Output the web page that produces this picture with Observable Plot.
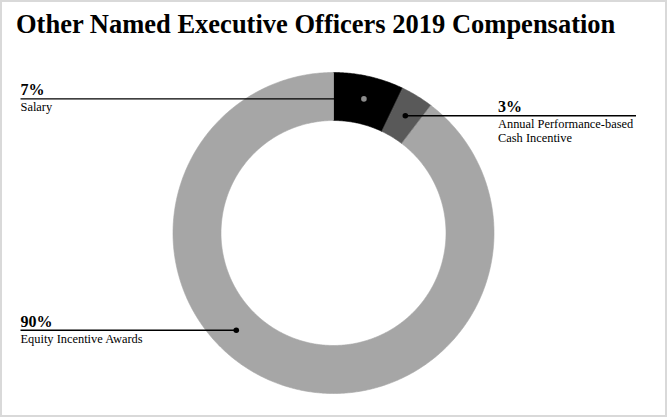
<!DOCTYPE html>
<html>
<head>
<meta charset="utf-8">
<script src="https://cdn.jsdelivr.net/npm/d3@7"></script>
<script src="https://cdn.jsdelivr.net/npm/@observablehq/plot@0.6"></script>
<style>
  html, body { margin: 0; padding: 0; background: #fff; }
  #wrap { position: relative; width: 667px; height: 417px; overflow: hidden; background: #fff; }
  #title { position: absolute; left: 16px; top: 11px; margin: 0; white-space: nowrap;
    font-family: "Liberation Serif", "Times New Roman", serif; font-weight: bold;
    font-size: 26.5px; line-height: 26.5px; color: #000; }
  #chart { position: absolute; left: 0; top: 0; }
  #border { position: absolute; left: 0; top: 0; width: 667px; height: 417px; box-sizing: border-box;
    border: 2px solid #d9d9d9; pointer-events: none; }
</style>
</head>
<body>
<div id="wrap">
  <div id="chart"></div>
  <div id="title">Other Named Executive Officers 2019 Compensation</div>
  <div id="border"></div>
</div>
<script>
// ---- data ----
const categories = ["Salary", "Annual Performance-based Cash Incentive", "Equity Incentive Awards"];
const labelText = ["Salary", "Annual Performance-based\nCash Incentive", "Equity Incentive Awards"];
const values = [7.1, 3.3, 89.6];
const sliceColors = ["#000000", "#595959", "#a6a6a6"];
const dotColors = ["#8c8c8c", "#000000", "#000000"];

// ---- layout ----
const W = 667, H = 417;
const cx = 333, cy = 232.5;          // donut centre (page px)
const R = 160.5, r0 = 112.5;         // outer / inner radius
const rLabel = (R + r0) / 2 + 1;     // where leader dots sit
const placement = [{side: "left"}, {side: "right"}, {side: "left", angle: 225}];

const total = d3.sum(values);
let acc = 0;
const slices = categories.map((name, i) => {
  const a0 = acc / total * 360;
  acc += values[i];
  const a1 = acc / total * 360;
  return {name, i, a0, a1, value: values[i], pct: Math.round(values[i] / total * 100)};
});

const rad = a => a * Math.PI / 180;
// polygon points for each ring slice
const pts = [];
for (const s of slices) {
  const n = Math.max(4, Math.ceil((s.a1 - s.a0) / 0.5));
  for (let k = 0; k <= n; k++) {
    const a = rad(s.a0 + (s.a1 - s.a0) * k / n);
    pts.push({name: s.name, color: sliceColors[s.i], x: R * Math.sin(a), y: R * Math.cos(a)});
  }
  for (let k = n; k >= 0; k--) {
    const a = rad(s.a0 + (s.a1 - s.a0) * k / n);
    pts.push({name: s.name, color: sliceColors[s.i], x: r0 * Math.sin(a), y: r0 * Math.cos(a)});
  }
}

const leftX = 20 - cx;           // label column on the left
const rightX = R + 4;            // label column on the right
const rightLineLen = 138;
const labels = slices.map(s => {
  const p = placement[s.i];
  const ang = rad(p.angle != null ? p.angle : (s.a0 + s.a1) / 2);
  const dx = rLabel * Math.sin(ang), dy = rLabel * Math.cos(ang);
  const tx = p.side === "left" ? leftX : rightX;
  return {
    ...s, dx, dy, tx,
    lx1: p.side === "left" ? leftX : dx,
    lx2: p.side === "left" ? dx : rightX + rightLineLen,
    pctText: s.pct + "%",
    nameText: labelText[s.i],
    dotColor: dotColors[s.i]
  };
});

const serif = "Liberation Serif, Times New Roman, serif";

const plot = Plot.plot({
  width: W, height: H, margin: 0,
  style: {background: "transparent", overflow: "visible"},
  x: {domain: [-cx, W - cx], axis: null},
  y: {domain: [cy - H, cy], axis: null},
  color: {type: "identity"},
  marks: [
    Plot.line(pts, {x: "x", y: "y", z: "name", fill: "color", stroke: "color", strokeWidth: 0.6, curve: "linear-closed"}),
    Plot.link(labels, {x1: "lx1", y1: "dy", x2: "lx2", y2: "dy", stroke: "#000", strokeWidth: 1.3}),
    Plot.dot(labels, {x: "dx", y: "dy", r: 2.8, fill: "dotColor", stroke: null}),
    Plot.text(labels, {x: "tx", y: "dy", text: "pctText", textAnchor: "start", lineAnchor: "bottom",
      dy: -3.5, fontFamily: serif, fontWeight: "bold", fontSize: 16, fill: "#000"}),
    Plot.text(labels, {x: "tx", y: "dy", text: "nameText", textAnchor: "start", lineAnchor: "top",
      dy: 2.7, fontFamily: serif, fontSize: 12.4, lineHeight: 1.09, fill: "#000"})
  ]
});
document.getElementById("chart").appendChild(plot);
</script>
</body>
</html>
